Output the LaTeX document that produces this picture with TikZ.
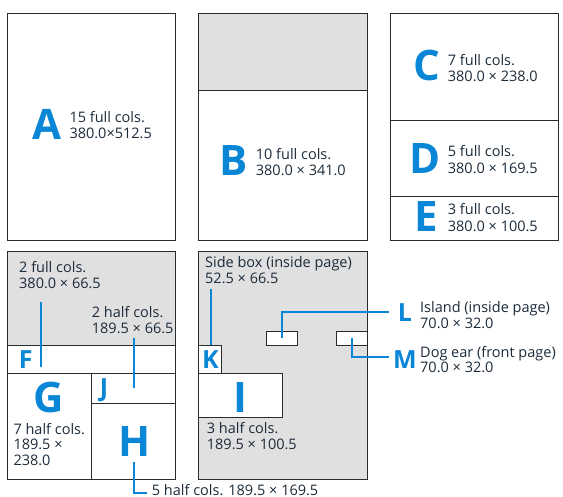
\documentclass[tikz,border=0pt]{standalone}
\usepackage{fontspec}
\setmainfont{Open Sans}
\definecolor{lblue}{HTML}{0A86D6}
\definecolor{ink}{HTML}{1C2B3A}
\definecolor{greyfill}{HTML}{E0E0E0}
\definecolor{edge}{HTML}{2B2B2B}
\begin{document}
\begin{tikzpicture}[x=1pt,y=-1pt,
  panel/.style={draw=edge, line width=0.9pt},
  whitebox/.style={draw=edge, fill=white, line width=0.9pt},
  big/.style={text=lblue, font=\fontsize{42}{42}\selectfont\bfseries, inner sep=0, anchor=base},
  small/.style={text=lblue, font=\fontsize{25}{25}\selectfont\bfseries, inner sep=0, anchor=base},
  info/.style={text=ink, font=\fontsize{14.5}{15.3}\selectfont, align=left, inner sep=0, anchor=base west},
  infowide/.style={info, font=\fontsize{14.5}{16.5}\selectfont},
  infotight/.style={info, font=\fontsize{14.5}{13}\selectfont},
  leader/.style={draw=lblue, line width=1.8pt}]
\useasboundingbox (0,0) rectangle (563,497);

% ---- top row ----
\draw[panel] (7.3,13.3) rectangle (175.7,240.7);
\fill[greyfill] (198.3,13.3) rectangle (367.3,90);
\draw[panel] (198.3,13.3) rectangle (367.3,240.7);
\draw[panel] (198.3,90) -- (367.3,90);
\draw[panel] (390,13.3) rectangle (558.3,240.7);
\draw[panel] (390,120.7) -- (558.3,120.7);
\draw[panel] (390,196.7) -- (558.3,196.7);

\node[big] (lA) at (47,139.5) {A};
\node[infowide] (tA) at (69.3,139) {15 full cols.\\380.0×512.5};
\node[big] (lB) at (233.5,176) {B};
\node[infowide] (tB) at (255.7,176) {10 full cols.\\380.0 × 341.0};
\node[big] (lC) at (426.7,81) {C};
\node[infowide] (tC) at (447.7,82) {7 full cols.\\380.0 × 238.0};
\node[big] (lD) at (425,173.3) {D};
\node[infowide] (tD) at (447.7,173.5) {5 full cols.\\380.0 × 169.5};
\node[big] (lE) at (426.3,231.5) {E};
\node[infowide] (tE) at (447.7,231.5) {3 full cols.\\380.0 × 100.5};

% ---- bottom left ----
\fill[greyfill] (7.3,251) rectangle (175.7,345);
\draw[panel] (7.3,251) rectangle (175.7,479);
\draw[panel] (7.3,345) -- (175.7,345);
\draw[panel] (7.3,373.3) -- (175.7,373.3);
\draw[panel] (91.7,373.3) -- (91.7,479);
\draw[panel] (91.7,403.3) -- (175.7,403.3);

\node[info] (tF) at (19,288.3) {2 full cols.\\380.0 × 66.5};
\node[info] (tJ) at (91.7,333.3) {2 half cols.\\189.5 × 66.5};
\node[small] (lF) at (25.7,368.3) {F};
\node[big] (lG) at (49,412.8) {G};
\node[info] (tG) at (13.3,465) {7 half cols.\\189.5 ×\\238.0};
\node[small] (lJ) at (104,397) {J};
\node[big] (lH) at (135,456.7) {H};
\node[info] (tH) at (151.7,495) {5 half cols. 189.5 × 169.5};

\coordinate (fTop) at (41.3,301.7);
\coordinate (fBot) at (41.3,366.7);
\draw[leader] (fTop) -- (fBot);
\coordinate (jTop) at (134,338.3);
\coordinate (jBot) at (134,388.3);
\draw[leader] (jTop) -- (jBot);
\coordinate (hTop) at (134,461.7);
\coordinate (hCorner) at (134,492.7);
\coordinate (hEnd) at (146.7,492.7);
\draw[leader] (hTop) -- (hCorner) -- (hEnd);

% ---- bottom middle ----
\fill[greyfill] (198.3,251) rectangle (367.3,479);
\draw[panel] (198.3,251) rectangle (367.3,479);
\draw[whitebox] (198.3,345) rectangle (221.7,373.3);
\draw[whitebox] (198.3,373.3) rectangle (282.3,417.3);
\draw[whitebox] (266.7,331) rectangle (297.3,345);
\draw[whitebox] (336.7,331) rectangle (367.3,345);

\node[info] (tK) at (205,283.3) {Side box (inside page)\\52.5 × 66.5};
\node[small] (lK) at (210.5,368.3) {K};
\node[big] (lI) at (240,412.7) {I};
\node[info] (tI) at (206.7,449.3) {3 half cols.\\189.5 × 100.5};

\coordinate (kTop) at (210.7,289.3);
\coordinate (kBot) at (210.7,345);
\draw[leader] (kTop) -- (kBot);
\coordinate (lStart) at (282.3,338.3);
\coordinate (lCorner) at (282.3,311.7);
\coordinate (lEnd) at (389.3,311.7);
\draw[leader] (lStart) -- (lCorner) -- (lEnd);
\coordinate (mStart) at (351.7,338.3);
\coordinate (mCorner) at (351.7,357.3);
\coordinate (mEnd) at (389.3,357.3);
\draw[leader] (mStart) -- (mCorner) -- (mEnd);

\node[small] (lL) at (405,321.5) {L};
\node[info] (tL) at (420,328.3) {Island (inside page)\\70.0 × 32.0};
\node[small] (lM) at (405,369) {M};
\node[infotight] (tM) at (420,372.5) {Dog ear (front page)\\70.0 × 32.0};
\end{tikzpicture}
\end{document}
